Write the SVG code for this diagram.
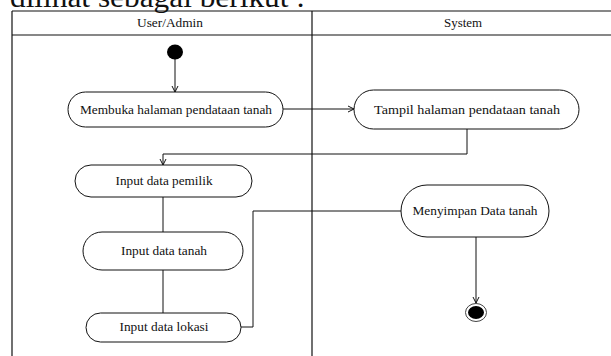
<svg xmlns="http://www.w3.org/2000/svg" width="611" height="356" viewBox="0 0 611 356">
<style>
.lane{fill:none;stroke:#111;stroke-width:1.2}
.node{fill:#fff;stroke:#111;stroke-width:1}
.edge{fill:none;stroke:#111;stroke-width:1}
.t{font-family:'Liberation Serif','Times New Roman',serif;font-size:12px;fill:#111;text-anchor:middle}
</style>
<defs>
<marker id="arr" markerWidth="8" markerHeight="8" refX="7" refY="4" orient="auto" markerUnits="userSpaceOnUse">
<path d="M1,1 L7,4 L1,7" fill="none" stroke="#111" stroke-width="1"/>
</marker>
</defs>
<rect width="611" height="356" fill="#fff"/>
<text x="10" y="7" font-family="'Liberation Serif','Times New Roman',serif" font-size="30" fill="#111" textLength="295" lengthAdjust="spacingAndGlyphs">dilihat sebagai berikut :</text>
<g id="swimlanes" font-family="'Liberation Serif','Times New Roman',serif">
<line class="lane" x1="12" y1="11" x2="611" y2="11"/>
<line class="lane" x1="12" y1="35" x2="611" y2="35"/>
<line class="lane" x1="12" y1="11" x2="12" y2="356"/>
<line class="lane" x1="312" y1="11" x2="312" y2="356"/>
<text class="t" x="170" y="27" textLength="66" lengthAdjust="spacingAndGlyphs">User/Admin</text>
<text class="t" x="463" y="27" textLength="38" lengthAdjust="spacingAndGlyphs">System</text>
</g>
<g id="connectors">
<line class="edge" x1="175" y1="59" x2="175" y2="92" marker-end="url(#arr)"/>
<line class="edge" x1="283" y1="109" x2="354" y2="109" marker-end="url(#arr)"/>
<polyline class="edge" points="467,129 467,154 163,154 163,165" marker-end="url(#arr)"/>
<line class="edge" x1="163" y1="197" x2="163" y2="232"/>
<line class="edge" x1="163" y1="270" x2="163" y2="313"/>
<polyline class="edge" points="241,327 253,327 253,211 401,211"/>
<line class="edge" x1="476" y1="237" x2="476" y2="303" marker-end="url(#arr)"/>
</g>
<g id="start">
<ellipse cx="175" cy="52" rx="8" ry="7.5" fill="#000"/>
</g>
<g id="node1" font-family="'Liberation Serif','Times New Roman',serif">
<rect class="node" x="68" y="92" width="215" height="35" rx="17.5"/>
<text class="t" x="176" y="113.5" textLength="192" lengthAdjust="spacingAndGlyphs">Membuka halaman pendataan tanah</text>
</g>
<g id="node2" font-family="'Liberation Serif','Times New Roman',serif">
<rect class="node" x="354" y="90" width="225" height="39" rx="19.5"/>
<text class="t" x="467" y="113.5" textLength="186" lengthAdjust="spacingAndGlyphs">Tampil halaman pendataan tanah</text>
</g>
<g id="node3" font-family="'Liberation Serif','Times New Roman',serif">
<rect class="node" x="75" y="165" width="177" height="32" rx="16"/>
<text class="t" x="164" y="184.5" textLength="97" lengthAdjust="spacingAndGlyphs">Input data pemilik</text>
</g>
<g id="node4" font-family="'Liberation Serif','Times New Roman',serif">
<rect class="node" x="83" y="232" width="160" height="38" rx="19"/>
<text class="t" x="164" y="254.5" textLength="86" lengthAdjust="spacingAndGlyphs">Input data tanah</text>
</g>
<g id="node5" font-family="'Liberation Serif','Times New Roman',serif">
<rect class="node" x="86" y="313" width="155" height="29" rx="14.5"/>
<text class="t" x="164" y="331" textLength="89" lengthAdjust="spacingAndGlyphs">Input data lokasi</text>
</g>
<g id="node6" font-family="'Liberation Serif','Times New Roman',serif">
<rect class="node" x="401" y="185" width="148" height="52" rx="26"/>
<text class="t" x="475" y="215" textLength="125" lengthAdjust="spacingAndGlyphs">Menyimpan Data tanah</text>
</g>
<g id="end">
<ellipse cx="476" cy="312.5" rx="10.5" ry="9" fill="#fff" stroke="#444" stroke-width="1"/>
<ellipse cx="476" cy="312.5" rx="8" ry="6.5" fill="#000"/>
</g>
</svg>
